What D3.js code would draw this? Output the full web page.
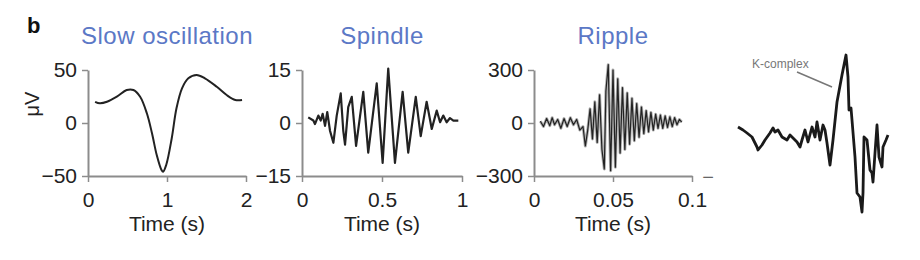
<!DOCTYPE html>
<html>
<head>
<meta charset="utf-8">
<script src="https://cdn.jsdelivr.net/npm/d3@7"></script>
<style>
  body { margin: 0; background: #fff; }
  svg { display: block; font-family: "Liberation Sans", Arial, sans-serif; }
</style>
</head>
<body>
<svg id="chart" width="920" height="260"></svg>
<script>
// --- data ---
const panelTitles = ["Slow oscillation", "Spindle", "Ripple"];

// slow oscillation (s, µV)
const slowTime  = [0.09, 0.15, 0.24, 0.365, 0.49, 0.575, 0.66, 0.745, 0.81, 0.87, 0.93, 0.95, 0.99, 1.06, 1.12, 1.19, 1.27, 1.375, 1.48, 1.63, 1.755, 1.865, 1.95];
const slowValue = [20, 18.6, 20, 24.8, 31.1, 31.1, 24.8, 9.2, -9.7, -30.2, -44.3, -46, -39.6, -14.4, 13.9, 32.7, 42.2, 45.3, 42.2, 34.2, 26.4, 21.7, 21.7];
const slowXTicks = [0, 1, 2];
const slowXLabels = ["0", "1", "2"];
const slowYTicks = [-50, 0, 50];
const slowYLabels = ["\u221250", "0", "50"];

// spindle (s, µV)
const spindleTime  = [0.039, 0.071, 0.081, 0.102, 0.117, 0.129, 0.144, 0.158, 0.175, 0.196, 0.217, 0.242, 0.258, 0.269, 0.289, 0.311, 0.338, 0.383, 0.414, 0.467, 0.504, 0.539, 0.581, 0.629, 0.664, 0.711, 0.742, 0.779, 0.811, 0.842, 0.863, 0.883, 0.904, 0.925, 0.946, 0.977];
const spindleValue = [1.6, 0.7, -0.3, 2.1, 0.7, 2.6, -0.8, 3.1, -2.2, -5.6, 2.1, 8.4, -2.2, -6.1, 4.5, 7.4, -6.5, 8.8, -8.4, 11.2, -11.3, 15.4, -11.3, 8.8, -8.4, 7.4, -3.7, 6.0, -1.7, 3.5, 0.2, 2.1, 0.2, 1.4, 0.7, 0.7];
const spindleXTicks = [0, 0.5, 1];
const spindleXLabels = ["0", "0.5", "1"];
const spindleYTicks = [-15, 0, 15];
const spindleYLabels = ["\u221215", "0", "15"];

// ripple (s, µV)
const rippleTime  = [0.004, 0.006, 0.008, 0.010, 0.0115, 0.013, 0.015, 0.017, 0.019, 0.021, 0.023, 0.025, 0.027, 0.029, 0.031, 0.0325, 0.034, 0.0355, 0.037, 0.0385, 0.040, 0.0415, 0.043, 0.0445, 0.0455, 0.047, 0.0485, 0.050, 0.0515, 0.053, 0.0545, 0.056, 0.0575, 0.059, 0.0605, 0.062, 0.0635, 0.065, 0.0665, 0.068, 0.0695, 0.071, 0.0725, 0.074, 0.0755, 0.077, 0.0785, 0.080, 0.0815, 0.083, 0.0845, 0.086, 0.0875, 0.089, 0.0905, 0.092, 0.0935];
const rippleValue = [10, -20, 25, -15, 30, -10, 20, -30, 25, -20, 30, -10, 20, -40, -20, -130, -40, 80, -90, 120, -110, 160, -150, -260, 180, 330, -270, 300, -250, 250, -170, 200, -150, 170, -120, 140, -100, 110, -80, 90, -60, 70, -50, 60, -40, 50, -30, 45, -30, 40, -25, 35, -20, 30, -10, 20, 5];
const rippleXTicks = [0, 0.05, 0.1];
const rippleXLabels = ["0", "0.05", "0.1"];
const rippleYTicks = [-300, 0, 300];
const rippleYLabels = ["\u2212300", "0", "300"];

// K-complex trace (arbitrary units, no axes)
const kTime  = [0, 5, 9, 14, 19, 20, 24, 27, 32, 35, 37, 40, 44, 49, 52, 55, 59, 62, 64, 67, 70, 74, 77, 79, 82, 85, 87, 89, 92, 95, 99, 104, 108, 110, 111, 113, 114, 117, 119, 122, 124, 125, 126, 129, 130, 132, 134, 135, 137, 139, 141, 144, 145, 148, 150];
const kValue = [8, 5, 2, -2, -12, -15, -10, -5, 2, 7, 3, 5, -2, -5, 0, -3, -7, -12, -5, 5, -7, 8, -2, 13, -5, 10, 5, -8, -30, -5, 33, 60, 80, 58, 25, 27, 15, -22, -58, -62, -77, -58, -2, -5, -15, -35, -38, -47, -18, 10, -22, -32, -12, -5, 0];

const svg = d3.select("#chart");
const axisColor = "#8c8c8c";
const plotTop = 70, plotBottom = 176;

svg.append("text")
  .attr("x", 27).attr("y", 33)
  .attr("font-size", 22).attr("font-weight", "bold").attr("fill", "#111")
  .text("b");

svg.append("text")
  .attr("transform", "translate(39,104) rotate(-90)")
  .attr("text-anchor", "middle")
  .attr("font-size", 20).attr("fill", "#222")
  .text("\u03bcV");

function drawPanel(p) {
  const x = d3.scaleLinear().domain(p.xDomain).range([p.left, p.right]);
  const y = d3.scaleLinear().domain(p.yDomain).range([plotBottom, plotTop]);
  const g = svg.append("g");

  g.append("text")
    .attr("x", (p.left + p.right) / 2).attr("y", 44)
    .attr("text-anchor", "middle")
    .attr("font-size", 24).attr("letter-spacing", 0.5).attr("fill", "#5b78c6")
    .text(p.title);

  const yAxis = g.append("g")
    .attr("transform", `translate(${p.left},0)`)
    .call(d3.axisLeft(y).tickValues(p.yTicks).tickFormat((d, i) => p.yLabels[i]).tickSize(6).tickSizeOuter(0).tickPadding(5));
  const xAxis = g.append("g")
    .attr("transform", `translate(0,${plotBottom})`)
    .call(d3.axisBottom(x).tickValues(p.xTicks).tickFormat((d, i) => p.xLabels[i]).tickSize(6).tickSizeOuter(0).tickPadding(10));

  [yAxis, xAxis].forEach(a => {
    a.select(".domain").attr("stroke", axisColor).attr("stroke-width", 2);
    a.selectAll(".tick line").attr("stroke", axisColor).attr("stroke-width", 1.5);
    a.selectAll(".tick text").attr("font-size", 21).attr("fill", "#222")
      .attr("font-family", "Liberation Sans, Arial, sans-serif");
  });

  g.append("text")
    .attr("x", (p.left + p.right) / 2).attr("y", 231)
    .attr("text-anchor", "middle")
    .attr("font-size", 21).attr("fill", "#222")
    .text("Time (s)");

  const pts = p.time.map((t, i) => [t, p.value[i]]);
  const line = d3.line().x(d => x(d[0])).y(d => y(d[1])).curve(p.curve);

  if (p.halo) {
    g.append("path").datum(pts)
      .attr("d", line).attr("fill", "none")
      .attr("stroke", "#b0b0b0").attr("stroke-width", p.halo)
      .attr("stroke-linejoin", "round");
  }
  g.append("path").datum(pts)
    .attr("d", line).attr("fill", "none")
    .attr("stroke", "#222").attr("stroke-width", p.width)
    .attr("stroke-linejoin", "round");
}

drawPanel({ title: panelTitles[0], left: 88, right: 246, xDomain: [0, 2], yDomain: [-50, 50],
  xTicks: slowXTicks, xLabels: slowXLabels, yTicks: slowYTicks, yLabels: slowYLabels,
  time: slowTime, value: slowValue, curve: d3.curveCatmullRom, width: 2 });

drawPanel({ title: panelTitles[1], left: 302, right: 462, xDomain: [0, 1], yDomain: [-15, 15],
  xTicks: spindleXTicks, xLabels: spindleXLabels, yTicks: spindleYTicks, yLabels: spindleYLabels,
  time: spindleTime, value: spindleValue, curve: d3.curveLinear, width: 2.2 });

drawPanel({ title: panelTitles[2], left: 534, right: 692, xDomain: [0, 0.1], yDomain: [-300, 300],
  xTicks: rippleXTicks, xLabels: rippleXLabels, yTicks: rippleYTicks, yLabels: rippleYLabels,
  time: rippleTime, value: rippleValue, curve: d3.curveLinear, width: 1.2, halo: 3 });

// stray minus sign from the cropped figure
svg.append("text")
  .attr("x", 708).attr("y", 184).attr("text-anchor", "middle")
  .attr("font-size", 20).attr("fill", "#666")
  .text("\u2212");

// K-complex inset
const kx = d3.scaleLinear().domain([0, 150]).range([738, 888]);
const ky = d3.scaleLinear().domain([-80, 85]).range([215, 50]);

svg.append("path")
  .datum(kTime.map((t, i) => [t, kValue[i]]))
  .attr("d", d3.line().x(d => kx(d[0])).y(d => ky(d[1])))
  .attr("fill", "none").attr("stroke", "#1a1a1a").attr("stroke-width", 2.8)
  .attr("stroke-linejoin", "round");

svg.append("text")
  .attr("x", 752).attr("y", 68)
  .attr("font-size", 12).attr("fill", "#777")
  .text("K-complex");

svg.append("line")
  .attr("x1", 797).attr("y1", 72).attr("x2", 832).attr("y2", 87)
  .attr("stroke", "#777").attr("stroke-width", 1.5);
</script>
</body>
</html>
